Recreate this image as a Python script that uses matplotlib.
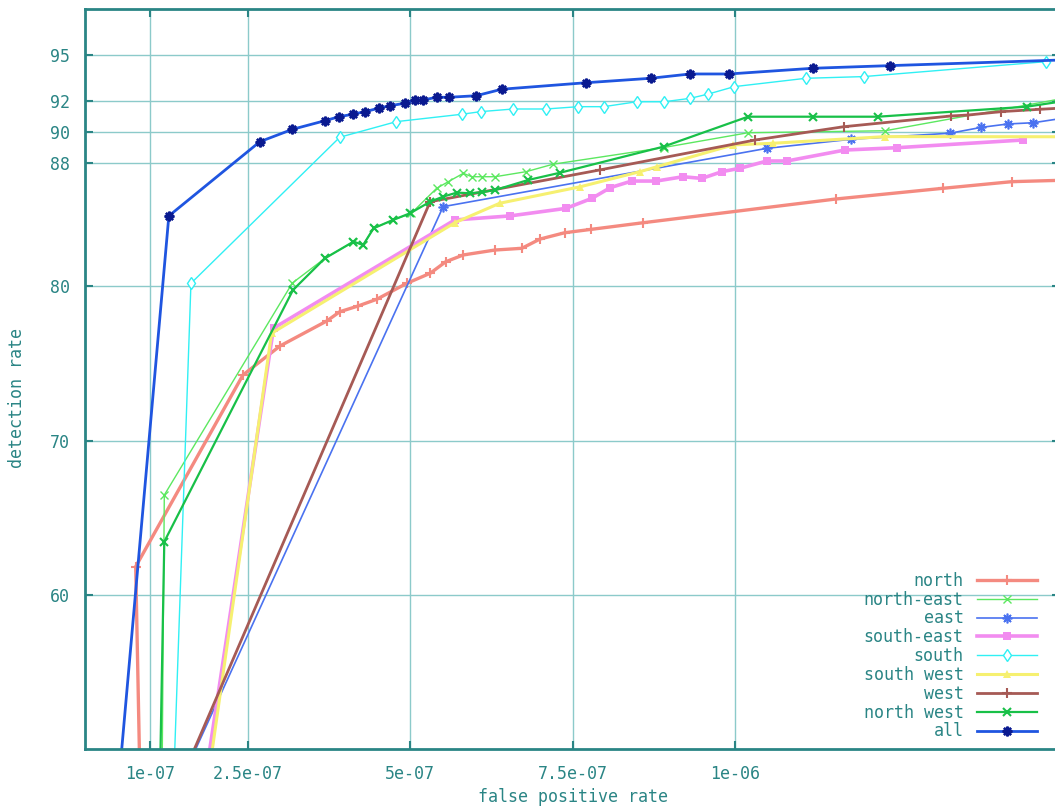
import numpy as np
import matplotlib
matplotlib.use("Agg")
import matplotlib.pyplot as plt

# false positive rate values are given in units of 1e-7
north_x = [0.86, 0.78, 2.43, 3.00, 3.72, 3.92, 4.20, 4.49, 4.95, 5.31, 5.55, 5.82, 6.31, 6.72, 7.00, 7.38, 7.79, 8.59, 11.56, 13.20, 14.26, 15.2]
north_y = [45, 61.84, 74.26, 76.14, 77.76, 78.36, 78.73, 79.17, 80.2, 80.85, 81.6, 82.04, 82.36, 82.47, 83.07, 83.48, 83.7, 84.13, 85.67, 86.36, 86.79, 86.9]

ne_x = [1.18, 1.22, 3.19, 3.69, 4.13, 4.28, 4.44, 4.74, 5.02, 5.41, 5.59, 5.82, 5.95, 6.10, 6.31, 6.79, 7.20, 8.90, 10.20, 12.31, 15.2]
ne_y = [45, 66.48, 80.22, 81.82, 82.90, 82.69, 83.77, 84.31, 84.74, 86.36, 86.79, 87.33, 87.11, 87.11, 87.11, 87.44, 87.92, 89.0, 89.96, 90.09, 92.3]

east_x = [1.16, 5.51, 10.49, 11.79, 13.31, 13.79, 14.20, 14.59, 15.2]
east_y = [45, 85.17, 88.95, 89.54, 89.93, 90.31, 90.53, 90.61, 91.0]

se_x = [1.74, 2.90, 5.69, 6.54, 7.40, 7.80, 8.08, 8.41, 8.79, 9.20, 9.49, 9.80, 10.08, 10.49, 10.80, 11.69, 12.49, 14.43]
se_y = [45, 77.29, 84.31, 84.57, 85.06, 85.71, 86.4, 86.83, 86.83, 87.11, 87.0, 87.44, 87.66, 88.13, 88.13, 88.84, 88.99, 89.49]

south_x = [1.34, 1.63, 3.92, 4.79, 5.80, 6.09, 6.59, 7.09, 7.59, 7.98, 8.49, 8.91, 9.31, 9.59, 9.99, 11.09, 11.98, 14.79]
south_y = [45, 80.2, 89.67, 90.68, 91.16, 91.33, 91.5, 91.5, 91.65, 91.65, 91.97, 91.97, 92.19, 92.47, 92.95, 93.49, 93.6, 94.57]

sw_x = [1.79, 2.87, 5.69, 6.38, 7.62, 8.54, 8.80, 9.97, 10.59, 12.31, 15.2]
sw_y = [45, 76.96, 84.13, 85.39, 86.46, 87.44, 87.76, 89.17, 89.28, 89.71, 89.7]

west_x = [1.17, 5.31, 7.92, 10.31, 11.67, 13.33, 13.59, 14.10, 14.69, 15.2]
west_y = [45, 85.49, 87.55, 89.49, 90.35, 91.05, 91.11, 91.33, 91.48, 91.6]

nw_x = [1.14, 1.22, 3.20, 3.69, 4.13, 4.28, 4.44, 4.74, 5.00, 5.31, 5.51, 5.72, 5.92, 6.10, 6.31, 6.82, 7.31, 8.90, 10.20, 11.20, 12.20, 14.49, 15.2]
nw_y = [45, 63.46, 79.77, 81.82, 82.90, 82.69, 83.77, 84.31, 84.74, 85.49, 85.82, 86.08, 86.04, 86.10, 86.25, 86.90, 87.37, 89.06, 91.0, 91.0, 91.0, 91.65, 92.1]

all_x = [0.46, 1.29, 2.69, 3.19, 3.69, 3.91, 4.12, 4.31, 4.52, 4.69, 4.92, 5.07, 5.20, 5.41, 5.60, 6.02, 6.41, 7.70, 8.70, 9.31, 9.91, 11.20, 12.38, 15.2]
all_y = [45, 84.57, 89.38, 90.18, 90.74, 91.0, 91.16, 91.33, 91.55, 91.71, 91.87, 92.08, 92.08, 92.26, 92.26, 92.36, 92.78, 93.2, 93.49, 93.77, 93.77, 94.14, 94.31, 94.7]

x_ticks = [1e-7, 2.5e-7, 5e-7, 7.5e-7, 1e-6]
x_labels = ["1e-07", "2.5e-07", "5e-07", "7.5e-07", "1e-06"]
y_ticks = [60, 70, 80, 88, 90, 92, 95]

teal = "#2a8585"
plt.rcParams['font.family'] = ['DejaVu Sans Mono']

fig = plt.figure(figsize=(10.55, 8.08), dpi=100)
ax = fig.add_axes([85 / 1055, 1 - 749.3 / 808, 975 / 1055, 740.6 / 808])

series = [
    ("north", north_x, north_y, dict(color="#f48a80", lw=2.4, marker="+", ms=7, mew=1.5)),
    ("north-east", ne_x, ne_y, dict(color="#5ce860", lw=1.0, marker="x", ms=6, mew=1.0)),
    ("east", east_x, east_y, dict(color="#4a72f0", lw=1.2, marker=(8, 2, 0), ms=7, mew=1.2)),
    ("south-east", se_x, se_y, dict(color="#f28cf0", lw=2.6, marker="s", ms=6, mew=0)),
    ("south", south_x, south_y, dict(color="#30f0f4", lw=1.0, marker="d", ms=6, mew=1.0, mfc="white")),
    ("south west", sw_x, sw_y, dict(color="#f6f070", lw=2.2, marker="^", ms=6, mew=0)),
    ("west", west_x, west_y, dict(color="#a65a55", lw=2.0, marker="+", ms=7, mew=1.5)),
    ("north west", nw_x, nw_y, dict(color="#18c048", lw=1.6, marker="x", ms=6, mew=1.5)),
    ("all", all_x, all_y, dict(color="#1f55e0", lw=2.0, marker=(8, 2, 0), ms=7, mew=1.7, mec="#0a1a90")),
]

for name, xs, ys, style in series:
    ax.plot(np.array(xs) * 1e-7, ys, label=name, **style)

ax.set_xlim(0, 1.5e-6)
ax.set_ylim(50, 98)
ax.set_xticks(x_ticks)
ax.set_xticklabels(x_labels)
ax.set_yticks(y_ticks)
ax.grid(True, color="#8ccaca", lw=1.0)
ax.set_axisbelow(True)

for sp in ax.spines.values():
    sp.set_color(teal)
    sp.set_linewidth(2)

ax.tick_params(direction="in", length=6, width=1.5, color=teal, labelcolor=teal,
               top=True, right=True, labelsize=12)
ax.tick_params(axis="y", pad=11)
ax.tick_params(axis="x", pad=11)

ax.set_xlabel("false positive rate", color=teal, fontsize=12)
ax.set_ylabel("detection rate", color=teal, fontsize=12)
ax.xaxis.set_label_coords((573 - 85) / 975, (749.3 - 797) / 740.6)
ax.xaxis.label.set_va("center")
ax.yaxis.set_label_coords((17 - 85) / 975, (749.3 - 398) / 740.6)
ax.yaxis.label.set_va("center")

leg = ax.legend(loc="lower right", bbox_to_anchor=((1037 - 85) / 975, 0.012),
                markerfirst=False, frameon=False, fontsize=12, handlelength=3.6,
                handletextpad=0.8, labelspacing=0.05, borderpad=0, borderaxespad=0)
for t in leg.get_texts():
    t.set_color(teal)

fig.savefig("out.png", dpi=100)
